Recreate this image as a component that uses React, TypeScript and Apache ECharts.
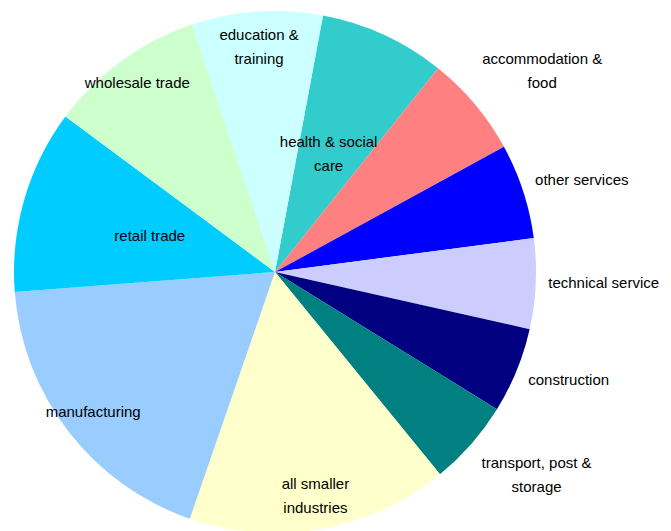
import React, { useEffect, useRef } from "react";
import * as echarts from "echarts";

const categories = [
  "health & social care",
  "accommodation & food",
  "other services",
  "technical service",
  "construction",
  "transport, post & storage",
  "all smaller industries",
  "manufacturing",
  "retail trade",
  "wholesale trade",
  "education & training",
];

const values = [7.8, 6.3, 5.9, 5.6, 5.3, 5.3, 16.2, 18.5, 11.4, 9.7, 8.1];

const labelTexts = [
  "health & social\ncare",
  "accommodation &\nfood",
  "other services",
  "technical service",
  "construction",
  "transport, post &\nstorage",
  "all smaller\nindustries",
  "manufacturing",
  "retail trade",
  "wholesale trade",
  "education &\ntraining",
];

const colors = [
  "#33CCCC",
  "#FF8080",
  "#0000FF",
  "#CCCCFF",
  "#000080",
  "#008080",
  "#FFFFCC",
  "#99CCFF",
  "#00CCFF",
  "#CCFFCC",
  "#CCFFFF",
];

// which ring each label sits in: 0 = half radius, 1 = near rim, 2 = outside
const labelRing = [0, 2, 2, 2, 2, 2, 1, 1, 0, 1, 1];

// small nudges for the labels (pixels)
const labelNudge: Record<string, [number, number]> = {
  "health & social care": [-2, 3],
  "accommodation & food": [16, 9],
  "other services": [-5, 9],
  "technical service": [1, -4],
  construction: [-10, -16],
  "transport, post & storage": [15, -14],
  "all smaller industries": [0, -4],
  manufacturing: [1, -2],
  "retail trade": [3, 0],
  "wholesale trade": [-2, -3],
  "education & training": [0, 5],
};

const CENTER: [number, number] = [275, 272];
const R = 261;

export default function App() {
  const ref = useRef<HTMLDivElement>(null);
  useEffect(() => {
    document.body.style.margin = "0";
    if (!ref.current) return;
    const chart = echarts.init(ref.current, null, { renderer: "svg" });
    const labelStyle = {
      color: "#000",
      fontSize: 15,
      lineHeight: 24,
      fontFamily: "Liberation Sans, Arial, sans-serif",
      position: "inside" as const,
      formatter: (p: any) => labelTexts[p.dataIndex],
    };
    const makeData = (ring: number, visible: boolean) =>
      categories.map((name, i) => ({
        name,
        value: values[i],
        itemStyle: { color: visible ? colors[i] : "rgba(0,0,0,0)" },
        label: { show: labelRing[i] === ring },
      }));
    const nudge = (p: any) => {
      const n = labelNudge[categories[p.dataIndex]] || [0, 0];
      return { dx: n[0], dy: n[1] };
    };
    const base = {
      type: "pie" as const,
      center: CENTER,
      startAngle: 79.4,
      clockwise: true,
      avoidLabelOverlap: false,
      labelLine: { show: false },
      emphasis: { disabled: true },
      silent: true,
      label: labelStyle,
      itemStyle: { borderWidth: 0 },
      labelLayout: nudge,
    };
    chart.setOption({
      animation: false,
      backgroundColor: "#fff",
      series: [
        { ...base, radius: R, data: makeData(0, true) },
        { ...base, radius: 456, data: makeData(1, false), z: 3 },
        { ...base, radius: 650, data: makeData(2, false), z: 3 },
      ],
    });
    return () => chart.dispose();
  }, []);
  return <div ref={ref} style={{ width: 671, height: 531 }} />;
}
